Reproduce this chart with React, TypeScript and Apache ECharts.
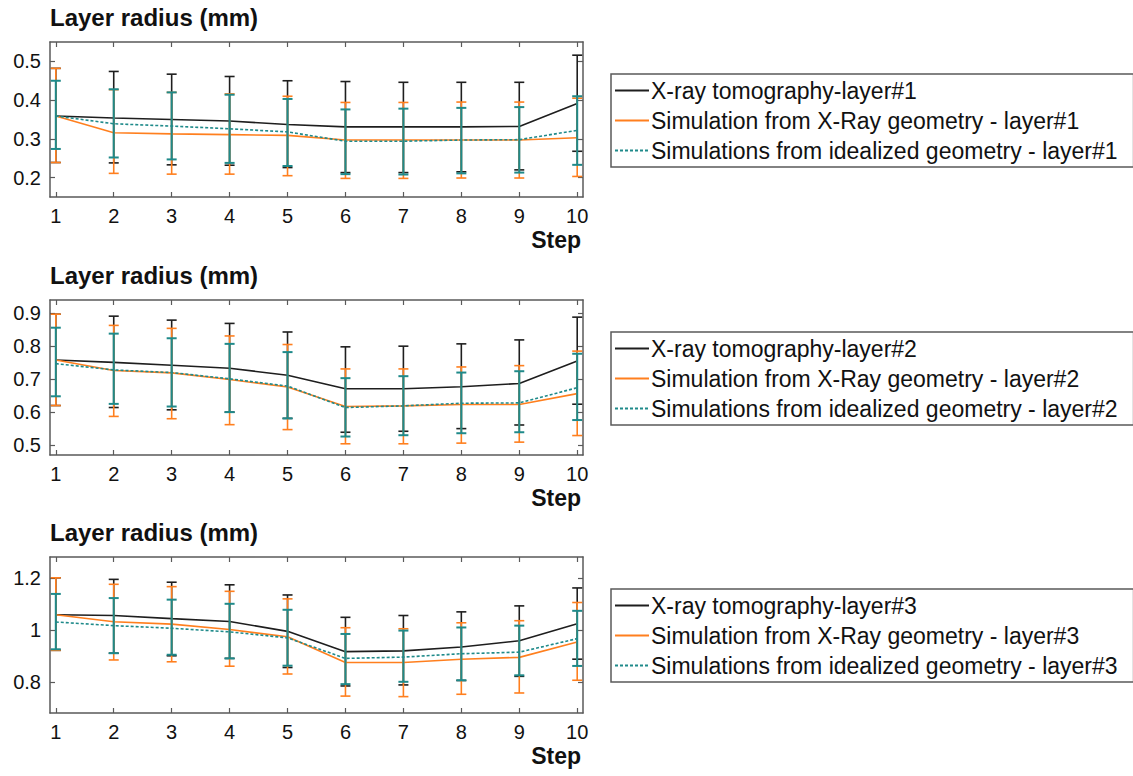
import React, { useEffect, useRef } from "react";
import * as echarts from "echarts";

const steps = [1, 2, 3, 4, 5, 6, 7, 8, 9, 10];
const yTicks1 = [0.2, 0.3, 0.4, 0.5];
const yTicks2 = [0.5, 0.6, 0.7, 0.8, 0.9];
const yTicks3 = [0.8, 1, 1.2];

const names1 = ["X-ray tomography-layer#1", "Simulation from X-Ray geometry - layer#1", "Simulations from idealized geometry - layer#1"];
const names2 = ["X-ray tomography-layer#2", "Simulation from X-Ray geometry - layer#2", "Simulations from idealized geometry - layer#2"];
const names3 = ["X-ray tomography-layer#3", "Simulation from X-Ray geometry - layer#3", "Simulations from idealized geometry - layer#3"];

// Layer 1
const xray1 = [0.359, 0.354, 0.35, 0.346, 0.337, 0.331, 0.331, 0.331, 0.332, 0.391];
const xray1Low = [0.239, 0.238, 0.233, 0.232, 0.226, 0.213, 0.213, 0.215, 0.22, 0.268];
const xray1High = [0.482, 0.474, 0.467, 0.461, 0.45, 0.448, 0.446, 0.446, 0.446, 0.516];
const simX1 = [0.359, 0.316, 0.313, 0.311, 0.309, 0.297, 0.297, 0.297, 0.297, 0.303];
const simX1Low = [0.239, 0.211, 0.209, 0.209, 0.205, 0.198, 0.198, 0.199, 0.199, 0.203];
const simX1High = [0.482, 0.427, 0.42, 0.416, 0.41, 0.394, 0.394, 0.395, 0.395, 0.405];
const simI1 = [0.359, 0.339, 0.333, 0.326, 0.318, 0.294, 0.294, 0.297, 0.298, 0.322];
const simI1Low = [0.274, 0.252, 0.247, 0.238, 0.23, 0.209, 0.208, 0.211, 0.213, 0.233];
const simI1High = [0.45, 0.428, 0.42, 0.414, 0.403, 0.376, 0.378, 0.38, 0.382, 0.41];

// Layer 2
const xray2 = [0.758, 0.751, 0.742, 0.733, 0.712, 0.671, 0.671, 0.677, 0.687, 0.755];
const xray2Low = [0.62, 0.614, 0.607, 0.6, 0.581, 0.539, 0.542, 0.55, 0.561, 0.624];
const xray2High = [0.897, 0.891, 0.879, 0.869, 0.843, 0.798, 0.8, 0.807, 0.819, 0.888];
const simX2 = [0.758, 0.726, 0.719, 0.699, 0.676, 0.617, 0.619, 0.623, 0.623, 0.656];
const simX2Low = [0.62, 0.587, 0.58, 0.562, 0.547, 0.504, 0.504, 0.506, 0.509, 0.529];
const simX2High = [0.897, 0.863, 0.854, 0.831, 0.805, 0.731, 0.731, 0.737, 0.741, 0.785];
const simI2 = [0.747, 0.728, 0.72, 0.701, 0.679, 0.614, 0.619, 0.627, 0.628, 0.674];
const simI2Low = [0.648, 0.625, 0.617, 0.6, 0.581, 0.526, 0.53, 0.536, 0.539, 0.576];
const simI2High = [0.856, 0.838, 0.824, 0.807, 0.782, 0.703, 0.709, 0.72, 0.724, 0.777];

// Layer 3
const xray3 = [1.058, 1.055, 1.043, 1.032, 0.994, 0.916, 0.919, 0.934, 0.958, 1.023];
const xray3Low = [0.921, 0.91, 0.9, 0.89, 0.855, 0.784, 0.788, 0.805, 0.821, 0.887];
const xray3High = [1.2, 1.194, 1.183, 1.173, 1.134, 1.048, 1.055, 1.069, 1.092, 1.161];
const simX3 = [1.058, 1.031, 1.022, 1.001, 0.973, 0.874, 0.874, 0.887, 0.894, 0.953];
const simX3Low = [0.921, 0.884, 0.877, 0.86, 0.83, 0.745, 0.743, 0.752, 0.757, 0.806];
const simX3High = [1.2, 1.175, 1.166, 1.148, 1.119, 1.008, 1.004, 1.027, 1.035, 1.105];
const simI3 = [1.03, 1.016, 1.006, 0.992, 0.969, 0.89, 0.895, 0.908, 0.914, 0.966];
const simI3Low = [0.925, 0.91, 0.904, 0.89, 0.862, 0.791, 0.8, 0.806, 0.825, 0.861];
const simI3High = [1.138, 1.122, 1.116, 1.1, 1.077, 0.984, 0.997, 1.009, 1.016, 1.073];

const BLACK = "#1e1e1e";
const ORANGE = "#ff7f1e";
const TEAL = "#1f8a8a";
const AXIS = "#5a5a5a";
const FONT = "'Liberation Sans', Arial, sans-serif";

const panels = [
  { top: 42, height: 155, min: 0.15, max: 0.55, ticks: yTicks1, names: names1,
    series: [[xray1, xray1Low, xray1High], [simX1, simX1Low, simX1High], [simI1, simI1Low, simI1High]] },
  { top: 300, height: 155, min: 0.47, max: 0.94, ticks: yTicks2, names: names2,
    series: [[xray2, xray2Low, xray2High], [simX2, simX2Low, simX2High], [simI2, simI2Low, simI2High]] },
  { top: 557, height: 156, min: 0.68, max: 1.28, ticks: yTicks3, names: names3,
    series: [[xray3, xray3Low, xray3High], [simX3, simX3Low, simX3High], [simI3, simI3Low, simI3High]] },
];

const colors = [BLACK, ORANGE, TEAL];

function buildOption() {
  const grid: any[] = [];
  const xAxis: any[] = [];
  const yAxis: any[] = [];
  const series: any[] = [];
  const legend: any[] = [];
  const graphic: any[] = [];

  panels.forEach((p, pi) => {
    grid.push({ left: 50, top: p.top, width: 533, height: p.height, containLabel: false });
    const axisLine = { show: true, onZero: false, lineStyle: { color: AXIS, width: 1.5 } };
    const tick = { show: true, inside: true, length: 5, lineStyle: { color: AXIS, width: 1.2 }, customValues: steps };
    xAxis.push({
      type: "value", gridIndex: pi, min: 0.9, max: 10.1, position: "bottom",
      axisLine, axisTick: tick, splitLine: { show: false },
      axisLabel: { customValues: steps, fontSize: 20, color: "#111", fontFamily: FONT, margin: 9 },
    });
    xAxis.push({
      type: "value", gridIndex: pi, min: 0.9, max: 10.1, position: "top",
      axisLine, axisTick: tick, splitLine: { show: false }, axisLabel: { show: false },
    });
    const ytick = { show: true, inside: true, length: 5, lineStyle: { color: AXIS, width: 1.2 }, customValues: p.ticks };
    yAxis.push({
      type: "value", gridIndex: pi, min: p.min, max: p.max, position: "left",
      axisLine, axisTick: ytick, splitLine: { show: false },
      axisLabel: { customValues: p.ticks, fontSize: 20, color: "#111", fontFamily: FONT, margin: 9 },
    });
    yAxis.push({
      type: "value", gridIndex: pi, min: p.min, max: p.max, position: "right",
      axisLine, axisTick: ytick, splitLine: { show: false }, axisLabel: { show: false },
    });

    p.series.forEach((s, si) => {
      const [vals, lo, hi] = s;
      const color = colors[si];
      series.push({
        type: "line", name: p.names[si], xAxisIndex: pi * 2, yAxisIndex: pi * 2,
        data: steps.map((x, i) => [x, vals[i]]),
        symbol: "none", showSymbol: false, color,
        lineStyle: { color, width: 1.6, type: si === 2 ? [3, 2] : "solid" },
        z: 2 + si,
      });
      series.push({
        type: "custom", name: p.names[si] + " err", xAxisIndex: pi * 2, yAxisIndex: pi * 2,
        data: steps.map((x, i) => [x, lo[i], hi[i]]),
        encode: { x: 0, y: [1, 2] },
        z: 2 + si,
        renderItem: (params: any, api: any) => {
          const x = api.value(0);
          const a = api.coord([x, api.value(1)]);
          const b = api.coord([x, api.value(2)]);
          const hw = 5;
          const st = { stroke: color, lineWidth: si === 2 ? 2 : 1.6 };
          return {
            type: "group",
            children: [
              { type: "line", shape: { x1: a[0], y1: a[1], x2: b[0], y2: b[1] }, style: st },
              { type: "line", shape: { x1: a[0] - hw, y1: a[1], x2: a[0] + hw, y2: a[1] }, style: st },
              { type: "line", shape: { x1: b[0] - hw, y1: b[1], x2: b[0] + hw, y2: b[1] }, style: st },
            ],
          };
        },
      });
    });

    legend.push({
      show: true, orient: "vertical", left: 611, top: p.top + 32,
      data: p.names, itemWidth: 34, itemHeight: 14, itemGap: 7,
      borderColor: AXIS, borderWidth: 1.5, backgroundColor: "#fff",
      padding: [5, 16, 5, 3], selectedMode: false,
      itemStyle: { opacity: 0 },
      textStyle: { fontSize: 23, color: "#111", fontFamily: FONT, padding: [0, 0, 0, -3] },
    });

    graphic.push({
      type: "text", left: 50, top: p.top - 37,
      style: { text: "Layer radius (mm)", font: `bold 24px ${FONT}`, fill: "#111" },
    });
    graphic.push({
      type: "text", right: 1133 - 581, top: p.top + p.height + 31,
      style: { text: "Step", font: `bold 23px ${FONT}`, fill: "#111" },
    });
  });

  return {
    animation: false,
    backgroundColor: "#fff",
    textStyle: { fontFamily: FONT },
    grid, xAxis, yAxis, series, legend, graphic,
  };
}

export default function App() {
  const ref = useRef<HTMLDivElement>(null);
  useEffect(() => {
    if (!ref.current) return;
    const chart = echarts.init(ref.current, null, { renderer: "svg" });
    chart.setOption(buildOption() as any);
    return () => chart.dispose();
  }, []);
  return <div ref={ref} style={{ position: "fixed", left: 0, top: 0, width: 1133, height: 776 }} />;
}
